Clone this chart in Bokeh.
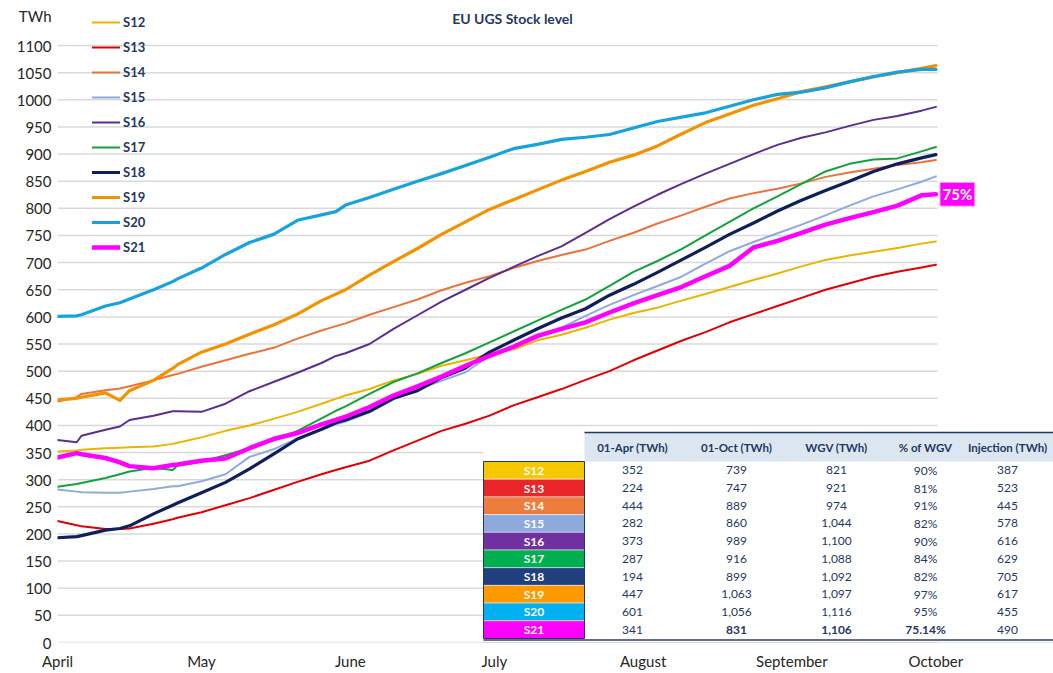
from bokeh.plotting import figure
from bokeh.models import Range1d, FixedTicker, Legend, LegendItem
from bokeh.core.properties import value
from bokeh.embed import file_html
from bokeh.resources import INLINE

# ---------------- data ----------------
DAYS = [0, 4, 5, 10, 13, 15, 20, 24, 25, 30, 35, 40, 45, 50, 55, 58, 60, 65, 70, 75, 80, 85, 90,
        95, 100, 105, 110, 115, 120, 125, 130, 135, 140, 145, 150, 155, 160, 165,
        170, 175, 180, 183]
MONTH_TICKS = [0, 30, 61, 91, 122, 153, 183]
MONTH_LABELS = ["April", "May", "June", "July", "August", "September", "October"]
Y_TICKS = list(range(0, 1101, 50))
UNIT_LABEL = "TWh"

SERIES = ["S12", "S13", "S14", "S15", "S16", "S17", "S18", "S19", "S20", "S21"]
S12 = [352, 354, 355, 358, 359, 360, 361, 366, 368, 378, 390, 400, 412, 425, 440, 449, 455, 467, 483,
       495, 510, 520, 531, 540, 557, 567, 580, 595, 607, 617, 630, 642, 655, 668, 680, 693, 705, 713,
       720, 727, 735, 739]
S13 = [224, 216, 214, 209, 209, 210, 219, 227, 230, 240, 253, 266, 281, 296, 310, 318, 323, 335, 354,
       372, 390, 403, 418, 437, 452, 467, 484, 500, 520, 538, 556, 572, 590, 605, 620, 635, 650, 662,
       674, 683, 691, 696]
S14 = [444, 452, 458, 465, 468, 472, 483, 493, 495, 508, 520, 532, 543, 560, 575, 583, 588, 604, 618,
       632, 649, 663, 675, 690, 703, 714, 724, 740, 755, 772, 787, 803, 818, 828, 836, 846, 858, 866,
       873, 880, 885, 889]
S15 = [282, 278, 277, 276, 276, 278, 283, 288, 288, 297, 310, 342, 356, 376, 392, 402, 407, 424, 448,
       466, 482, 498, 528, 545, 562, 580, 602, 622, 640, 657, 674, 698, 721, 738, 754, 770, 787, 805,
       822, 835, 849, 859]
S16 = [373, 369, 381, 392, 398, 410, 418, 426, 426, 425, 440, 463, 480, 497, 515, 528, 533, 550, 578,
       603, 628, 650, 672, 692, 712, 730, 755, 780, 803, 825, 845, 864, 882, 900, 917, 930, 940, 952,
       963, 970, 980, 987]
S17 = [287, 292, 294, 303, 310, 315, 322, 318, 326, 333, 345, 358, 372, 390, 413, 427, 435, 458, 480,
       496, 515, 533, 553, 573, 593, 613, 632, 657, 683, 703, 725, 750, 775, 800, 822, 845, 868, 882,
       890, 892, 905, 913]
S18 = [193, 195, 197, 207, 210, 215, 237, 253, 257, 276, 295, 320, 347, 375, 393, 405, 410, 426, 450,
       464, 488, 506, 535, 557, 578, 598, 615, 640, 660, 682, 705, 728, 752, 773, 795, 815, 833, 850,
       868, 882, 893, 899]
S19 = [447, 450, 452, 460, 446, 464, 483, 505, 512, 535, 550, 568, 585, 605, 630, 642, 650, 677, 702,
       726, 752, 775, 798, 816, 834, 852, 868, 885, 898, 915, 937, 958, 974, 990, 1002, 1015, 1024,
       1033, 1042, 1050, 1058, 1063]
S20 = [601, 602, 604, 620, 626, 633, 650, 665, 670, 690, 715, 737, 752, 778, 788, 794, 806, 820, 835,
       850, 864, 879, 894, 910, 918, 927, 931, 936, 948, 960, 968, 976, 988, 1000, 1010, 1014, 1022,
       1033, 1043, 1051, 1056, 1056]
S21 = [341, 349, 347, 340, 332, 325, 321, 327, 328, 335, 339, 358, 375, 386, 402, 410, 416, 434, 455,
       472, 490, 510, 528, 545, 565, 578, 590, 608, 625, 640, 655, 675, 694, 728, 740, 755, 770, 782,
       793, 805, 824, 826]
VALUES = [S12, S13, S14, S15, S16, S17, S18, S19, S20, S21]

LINE_COLORS = ["#EBB400", "#E00000", "#E8743B", "#8FAADC", "#5C2D91", "#14A03C",
               "#0F1F5A", "#F39200", "#17A2DE", "#FF00FF"]
LINE_WIDTHS = [2, 2, 2, 2, 2, 2, 3.2, 3.2, 3.2, 4.5]
CELL_COLORS = ["#F5C800", "#E8262A", "#ED7D3C", "#8EA9DB", "#7030A0", "#00B050",
               "#1F3F7F", "#FF9900", "#00B0F0", "#FF00FF"]

TABLE_HEADERS = ["01-Apr (TWh)", "01-Oct (TWh)", "WGV (TWh)", "% of WGV", "Injection (TWh)"]
APR = ["352", "224", "444", "282", "373", "287", "194", "447", "601", "341"]
OCT = ["739", "747", "889", "860", "989", "916", "899", "1,063", "1,056", "831"]
WGV = ["821", "921", "974", "1,044", "1,100", "1,088", "1,092", "1,097", "1,116", "1,106"]
PCT = ["90%", "81%", "91%", "82%", "90%", "84%", "82%", "97%", "95%", "75.14%"]
INJ = ["387", "523", "445", "578", "616", "629", "705", "617", "455", "490"]
LAST_LABEL = "75%"

# ---------------- layout helpers (page pixels -> data) ----------------
W, H = 1053, 673
X0_PX, PX_PER_DAY = 57.0, 4.8
Y0_PX, PX_PER_TWH = 642.0, 0.5427


def dx(px):
    return (px - X0_PX) / PX_PER_DAY


def dy(py):
    return (Y0_PX - py) / PX_PER_TWH


FONT = value("Lato")
NAVY = "#1F3864"

p = figure(width=W, height=H, output_backend="svg", toolbar_location=None,
           x_range=Range1d(dx(X0_PX), dx(W)), y_range=Range1d(0, dy(0)),
           min_border_left=int(X0_PX), min_border_right=0, min_border_top=0,
           min_border_bottom=int(H - Y0_PX))
p.outline_line_color = None
p.xgrid.visible = False
p.ygrid.visible = False
p.background_fill_color = "white"

# axes
unit_tick = round(dy(15), 1)
p.yaxis.ticker = FixedTicker(ticks=Y_TICKS + [unit_tick])
p.yaxis.major_label_overrides = {unit_tick: UNIT_LABEL}
p.yaxis.axis_line_color = None
p.yaxis.major_tick_line_color = None
p.yaxis.minor_tick_line_color = None
p.yaxis.major_tick_out = 0
p.yaxis.major_tick_in = 0
p.yaxis.major_label_standoff = 6
p.yaxis.major_label_text_font = "Lato"
p.yaxis.major_label_text_font_size = "15px"
p.yaxis.major_label_text_color = "#262626"

p.xaxis.ticker = FixedTicker(ticks=MONTH_TICKS)
p.xaxis.major_label_overrides = {t: l for t, l in zip(MONTH_TICKS, MONTH_LABELS)}
p.xaxis.axis_line_color = None
p.xaxis.major_tick_line_color = None
p.xaxis.minor_tick_line_color = None
p.xaxis.major_tick_out = 0
p.xaxis.major_tick_in = 0
p.xaxis.major_label_standoff = 9
p.xaxis.major_label_text_font = "Lato"
p.xaxis.major_label_text_font_size = "15px"
p.xaxis.major_label_text_color = "#262626"

# gridlines, only across the chart area
p.segment(x0=[0] * len(Y_TICKS), x1=[dx(937)] * len(Y_TICKS), y0=Y_TICKS, y1=Y_TICKS,
          line_color="#D9D9D9", line_width=1.5)

# series
renderers = []
for name, vals, c, w in zip(SERIES, VALUES, LINE_COLORS, LINE_WIDTHS):
    r = p.line(DAYS, vals, line_color=c, line_width=w, line_join="round", line_cap="round")
    renderers.append(r)

legend = Legend(items=[LegendItem(label=n, renderers=[r]) for n, r in zip(SERIES, renderers)],
                location=(35, 385), orientation="vertical", border_line_color=None,
                background_fill_alpha=0, padding=0, margin=0, spacing=5,
                glyph_width=28, glyph_height=20, label_height=20, label_standoff=3,
                label_text_font="Lato", label_text_font_style="bold",
                label_text_font_size="13px", label_text_color=NAVY)
p.add_layout(legend)

# end label for S21
lx0 = DAYS[-1] + 4 / PX_PER_DAY
lx1 = lx0 + 35 / PX_PER_DAY
half = 12 / PX_PER_TWH
p.quad(left=[lx0], right=[lx1], top=[S21[-1] + half], bottom=[S21[-1] - half],
       fill_color="#FF00FF", line_color="#F6C6F6", line_width=1)
p.text(x=[(lx0 + lx1) / 2], y=[S21[-1]], text=[LAST_LABEL], text_font=FONT,
       text_font_style="bold", text_font_size=value("15px"), text_color="white",
       text_align="center", text_baseline="middle")

# title
p.text(x=[dx(512)], y=[dy(18)], text=["EU UGS Stock level"], text_font=FONT,
       text_font_style="bold", text_font_size=value("14px"), text_color=NAVY,
       text_align="center", text_baseline="middle")

# ---------------- table ----------------
T_LEFT, T_CELL_R, T_RIGHT = 483, 584, W
T_TOP, T_HEAD_B, ROW_H = 432, 461, 17.7
COL_X = [632, 736, 836, 925, 1007]

p.quad(left=[dx(T_LEFT)], right=[dx(T_RIGHT)], top=[dy(T_TOP)], bottom=[dy(641)],
       fill_color="white", line_color=None)
p.quad(left=[dx(T_CELL_R)], right=[dx(T_RIGHT)], top=[dy(T_TOP)], bottom=[dy(T_HEAD_B)],
       fill_color="#DCE6F1", line_color=None)
p.segment(x0=[dx(T_CELL_R)], x1=[dx(T_RIGHT)], y0=[dy(T_TOP)], y1=[dy(T_TOP)],
          line_color=NAVY, line_width=1.5)

n = len(SERIES)
row_top = [T_HEAD_B + ROW_H * i for i in range(n)]
row_mid = [t + ROW_H / 2 for t in row_top]
p.quad(left=[dx(T_LEFT)] * n, right=[dx(T_CELL_R)] * n,
       top=[dy(t) for t in row_top], bottom=[dy(t + ROW_H) for t in row_top],
       fill_color=CELL_COLORS, line_color="white", line_width=1, line_alpha=0.5)
p.quad(left=[dx(T_LEFT)], right=[dx(T_CELL_R)], top=[dy(T_HEAD_B)],
       bottom=[dy(T_HEAD_B + ROW_H * n)], fill_color=None, line_color=NAVY, line_width=1)
p.text(x=[dx((T_LEFT + T_CELL_R) / 2)] * n, y=[dy(m) for m in row_mid], text=SERIES,
       text_font=FONT, text_font_style="bold", text_font_size=value("12px"),
       text_color="white", text_align="center", text_baseline="middle")

p.text(x=[dx(c) for c in COL_X], y=[dy(447)] * 5, text=TABLE_HEADERS, text_font=FONT,
       text_font_style="bold", text_font_size=value("11.5px"), text_color=NAVY,
       text_align="center", text_baseline="middle")

cols = [APR, OCT, WGV, PCT, INJ]
bold_cols = [False, True, True, True, False]
nx, ny, nt, bx, by, bt = [], [], [], [], [], []
for c, col, b in zip(COL_X, cols, bold_cols):
    for i, t in enumerate(col):
        if i == n - 1 and b:
            bx.append(dx(c)); by.append(dy(row_mid[i])); bt.append(t)
        else:
            nx.append(dx(c)); ny.append(dy(row_mid[i])); nt.append(t)
p.text(x=nx, y=ny, text=nt, text_font=FONT, text_font_size=value("12px"), text_color=NAVY,
       text_align="center", text_baseline="middle")
p.text(x=bx, y=by, text=bt, text_font=FONT, text_font_style="bold",
       text_font_size=value("12px"), text_color=NAVY, text_align="center",
       text_baseline="middle")

p.segment(x0=[dx(T_LEFT)] * 2, x1=[dx(T_RIGHT)] * 2, y0=[dy(639.5), dy(642.5)],
          y1=[dy(639.5), dy(642.5)], line_color=["#2F3E5C", "#8497B0"], line_width=[1.5, 1])

open("out.html", "w").write(file_html(p, INLINE))
